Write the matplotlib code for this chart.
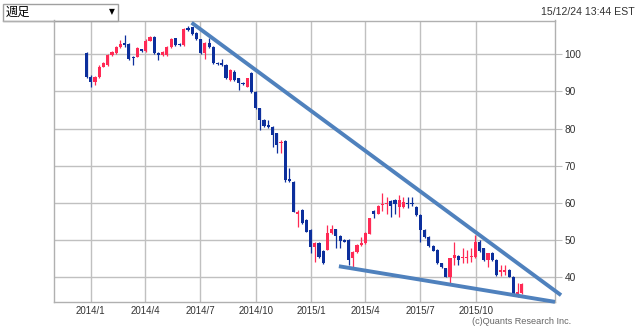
import matplotlib
matplotlib.use('Agg')
import matplotlib.pyplot as plt
import matplotlib.dates as mdates
import numpy as np
import pandas as pd

# weekly OHLC, first week 2013-12-25
start_week = '2013-12-25'

opens = [100.3, 94.0, 92.6, 93.8, 96.7, 97.1, 99.8, 100.3, 102.0, 103.0,
         102.8, 99.4, 99.4, 101.3, 100.8, 103.7, 104.6, 100.4, 99.8, 99.8,
         102.0, 104.3, 102.8, 102.5, 107.0, 107.3, 105.8, 104.0, 100.3, 103.0,
         101.9, 97.7, 97.7, 97.1, 93.1, 95.3, 93.5, 92.2, 91.3, 94.9,
         89.9, 85.4, 82.3, 80.9, 80.5, 78.7, 76.0, 76.7, 66.3, 65.7,
         57.0, 58.0, 55.3, 52.6, 48.1, 49.1, 47.0, 47.4, 51.9, 52.8,
         51.0, 50.0, 50.0, 45.0, 46.8, 48.6, 49.2, 51.7, 57.8, 57.1,
         59.4, 59.6, 60.5, 60.7, 58.9, 58.9, 60.0, 59.8, 58.8, 56.7,
         52.6, 50.8, 48.3, 47.3, 43.7, 42.3, 40.1, 45.0, 45.6, 45.0,
         45.0, 45.4, 45.4, 49.5, 47.7, 44.6, 46.5, 44.6, 41.4, 41.4,
         41.9, 40.1, 35.1, 35.6]

closes = [93.8, 92.6, 94.0, 96.7, 97.6, 99.8, 100.7, 102.0, 102.8, 102.5,
          98.6, 98.9, 101.6, 100.8, 103.7, 104.7, 100.3, 99.8, 100.7, 102.0,
          104.2, 102.5, 102.5, 106.7, 106.5, 105.5, 104.0, 100.3, 103.1, 101.9,
          97.6, 97.3, 97.1, 93.5, 95.8, 93.1, 92.2, 92.0, 93.5, 89.9,
          85.4, 82.3, 80.7, 80.3, 78.2, 75.6, 76.4, 66.1, 65.9, 57.6,
          57.6, 54.6, 52.2, 48.1, 49.1, 45.3, 43.7, 51.8, 52.8, 51.0,
          49.8, 49.5, 44.7, 46.8, 48.6, 49.2, 51.8, 55.8, 57.1, 59.1,
          59.8, 59.8, 59.1, 59.8, 60.7, 60.1, 59.6, 59.6, 56.7, 52.6,
          50.7, 48.3, 47.1, 43.7, 42.6, 40.1, 45.0, 45.9, 44.6, 45.3,
          45.3, 45.7, 49.5, 46.9, 44.6, 46.4, 44.6, 40.5, 41.9, 41.9,
          40.1, 35.1, 36.0, 38.1]

highs = [100.5, 94.3, 94.2, 97.0, 98.0, 100.0, 101.0, 102.3, 103.9, 105.2,
         103.0, 99.6, 101.9, 101.5, 104.0, 105.0, 104.8, 100.7, 101.0, 102.3,
         104.5, 104.5, 103.0, 107.0, 107.6, 107.4, 106.0, 104.2, 103.3, 104.3,
         102.1, 97.9, 98.6, 97.3, 96.0, 95.8, 93.7, 92.4, 93.7, 95.3,
         90.1, 85.6, 82.5, 82.3, 80.7, 78.9, 77.0, 76.9, 69.3, 65.9,
         58.0, 58.2, 55.5, 52.8, 49.3, 49.3, 47.2, 54.0, 54.0, 53.0,
         51.2, 50.2, 50.2, 47.0, 48.8, 50.7, 52.0, 56.0, 58.0, 59.3,
         62.5, 61.6, 60.7, 60.9, 62.1, 61.6, 61.6, 61.6, 59.0, 56.9,
         52.8, 51.0, 48.5, 47.5, 43.9, 42.5, 45.2, 49.5, 45.8, 47.7,
         47.2, 47.7, 51.3, 49.9, 47.9, 46.6, 46.7, 44.8, 43.2, 43.2,
         42.1, 40.3, 38.3, 38.3]

lows = [93.5, 91.3, 91.6, 93.6, 96.5, 96.9, 99.6, 100.1, 101.8, 102.0,
        98.4, 97.1, 99.2, 100.6, 100.6, 103.5, 100.1, 98.4, 99.6, 99.6,
        101.8, 102.3, 102.3, 102.3, 106.3, 105.3, 103.8, 100.1, 98.6, 101.7,
        97.4, 97.1, 96.9, 93.3, 92.9, 92.9, 90.4, 91.8, 91.1, 89.7,
        85.2, 79.6, 80.5, 80.1, 75.1, 73.3, 73.5, 65.7, 65.7, 57.4,
        53.5, 54.4, 52.0, 46.4, 44.1, 45.1, 43.5, 47.2, 51.7, 47.7,
        47.7, 49.3, 43.2, 42.7, 46.6, 48.4, 49.0, 51.5, 55.8, 56.9,
        57.8, 57.0, 56.2, 57.1, 56.2, 58.7, 58.5, 59.0, 56.5, 49.5,
        50.5, 48.1, 46.9, 43.5, 42.4, 39.9, 38.3, 43.2, 43.2, 43.7,
        43.7, 44.1, 45.2, 46.7, 44.4, 42.7, 44.4, 40.3, 40.3, 40.5,
        39.9, 34.9, 34.7, 35.4]

# hand drawn trend lines
upper_dates = ['2014-06-17', '2016-02-19']
upper_vals = [108.5, 35.1]
lower_dates = ['2015-02-16', '2016-02-09']
lower_vals = [42.9, 33.3]

tick_dates = ['2014-01-01', '2014-04-01', '2014-07-01', '2014-10-01',
              '2015-01-01', '2015-04-01', '2015-07-01', '2015-10-01']
tick_labels = ['2014/1', '2014/4', '2014/7', '2014/10',
               '2015/1', '2015/4', '2015/7', '2015/10']
y_ticks = [40, 50, 60, 70, 80, 90, 100]

UP = '#ff2a55'
DOWN = '#0c2f9c'
TREND = '#4f81bd'
GRID = '#c0c0c0'

o = np.array(opens)
c = np.array(closes)
x = mdates.date2num(pd.date_range(start_week, periods=len(opens), freq='7D'))
cols = np.where(c > o, UP, DOWN)

fig = plt.figure(figsize=(6.4, 3.3), dpi=100)
ax = fig.add_axes([54 / 640, 1 - 301.5 / 330, 501 / 640, 281 / 330])

# candles
ax.vlines(x, lows, highs, colors=cols, linewidth=0.9, zorder=3)
body = np.maximum(np.abs(c - o), 0.35)
ax.bar(x, body, bottom=np.minimum(o, c), width=5.2, color=cols,
       linewidth=0, zorder=4)

# trend lines
ax.plot(mdates.datestr2num(upper_dates), upper_vals, color=TREND, lw=2.8,
        solid_capstyle='butt', zorder=5, clip_on=False)
ax.plot(mdates.datestr2num(lower_dates), lower_vals, color=TREND, lw=2.8,
        solid_capstyle='butt', zorder=5, clip_on=False)

ax.set_xlim(mdates.datestr2num('2013-11-01'), mdates.datestr2num('2016-02-09'))
ax.set_ylim(33.4, 109.1)

ax.set_xticks(mdates.datestr2num(tick_dates))
ax.set_xticklabels(tick_labels, fontsize=7, color='#333333',
                   family=['Liberation Sans Narrow', 'Liberation Sans'])
ax.set_yticks(y_ticks)
ax.set_yticklabels([str(v) for v in y_ticks], fontsize=7.3, color='#333333',
                   family='Liberation Sans')
ax.yaxis.tick_right()
ax.tick_params(axis='y', length=5, color=GRID, pad=2)
ax.tick_params(axis='x', length=0, pad=3)
ax.grid(True, color=GRID, linewidth=1.0)
ax.set_axisbelow(True)
for s in ax.spines.values():
    s.set_color('#b0b0b0')
    s.set_linewidth(1.0)

# header
fig.add_artist(plt.Line2D([3 / 640, 54 / 640], [1 - 20.5 / 330] * 2,
                          color='#b0b0b0', lw=1.0))
fig.add_artist(plt.Rectangle((3 / 640, 1 - 20.5 / 330), 115 / 640, 17 / 330,
                             fill=False, edgecolor='#a0a0a0', lw=1.0))
fig.text(6 / 640, 1 - 12 / 330, '週足', fontsize=8.8, va='center',
         family=['Noto Sans CJK JP', 'DejaVu Sans'])
fig.text(112 / 640, 1 - 12 / 330, '▼', fontsize=5.5, va='center', ha='center',
         family=['DejaVu Sans'])
fig.text(635 / 640, 1 - 12 / 330, '15/12/24 13:44 EST', fontsize=7.6,
         ha='right', va='center', color='#333333', family='Liberation Sans')
fig.text(571 / 640, 1 - 322 / 330, '(c)Quants Research Inc.', fontsize=6.6,
         ha='right', va='center', color='#666666',
         family=['Liberation Sans Narrow', 'Liberation Sans'])

fig.savefig('out.png', dpi=100)
